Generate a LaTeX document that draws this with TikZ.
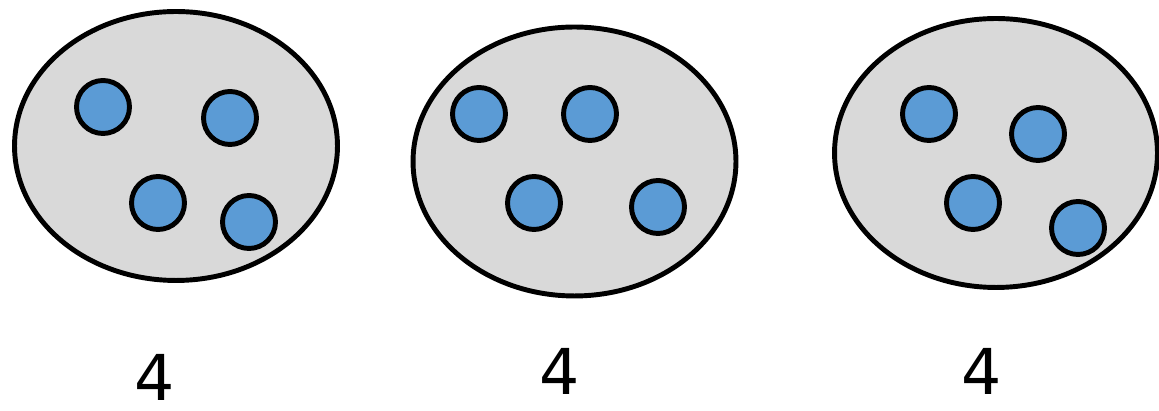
\documentclass[tikz,border=0pt]{standalone}
\usepackage{fontspec}
\setsansfont{DejaVu Sans}
\usepackage{tikz}
\usepackage{xcolor}
\usetikzlibrary{shapes.geometric}
\definecolor{setgray}{HTML}{D9D9D9}
\definecolor{dotblue}{HTML}{5B9BD5}
\tikzset{
  setbox/.style={ellipse,draw=black,fill=setgray,line width=2.8pt,
                 minimum width=6.46cm,minimum height=5.38cm,inner sep=0pt},
  dot/.style={circle,draw=black,fill=dotblue,line width=2.8pt,
              minimum size=1.06cm,inner sep=0pt},
  countlabel/.style={font=\sffamily\fontsize{36}{40}\selectfont,inner sep=0pt}
}

\begin{document}
\begin{tikzpicture}[x=0.02cm,y=0.02cm]
      \useasboundingbox (0,0) rectangle (1159,411);
      % first set
      \node[setbox] (setA) at (176,265) {};
      \node[dot] (a1) at (103,304) {};
      \node[dot] (a2) at (230,293) {};
      \node[dot] (a3) at (158,208) {};
      \node[dot] (a4) at (249,189) {};
      \node[countlabel] (countA) at (155,34) {4};

      % second set
      \node[setbox] (setB) at (574.5,249.5) {};
      \node[dot] (b1) at (479,297) {};
      \node[dot] (b2) at (590,297) {};
      \node[dot] (b3) at (534,208) {};
      \node[dot] (b4) at (658,204) {};
      \node[countlabel] (countB) at (560,40) {4};

      % third set
      \node[setbox] (setC) at (996,258) {};
      \node[dot] (c1) at (929,297) {};
      \node[dot] (c2) at (1038,277) {};
      \node[dot] (c3) at (973,208) {};
      \node[dot] (c4) at (1078,183) {};
      \node[countlabel] (countC) at (982,40) {4};
    \end{tikzpicture}
\end{document}
